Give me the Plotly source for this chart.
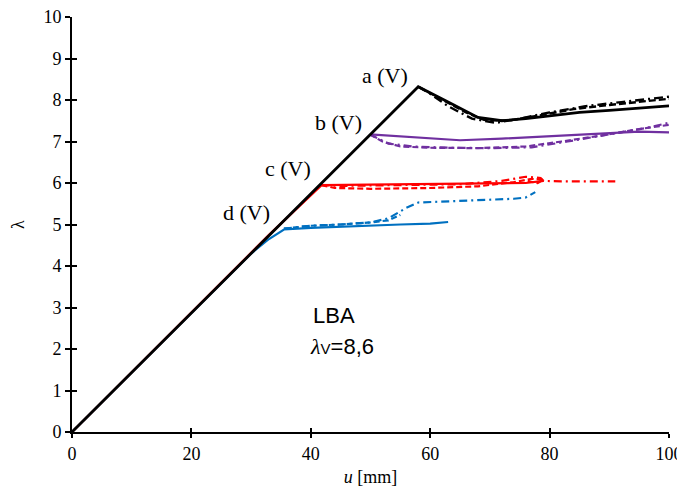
import plotly.graph_objects as go

# Black (a)
a_solid_u = [0, 58, 63, 68, 72, 76, 80, 85, 90, 95, 100]
a_solid_l = [0, 8.32, 7.95, 7.58, 7.5, 7.55, 7.62, 7.7, 7.75, 7.8, 7.86]
a_dash_u = [58, 62, 66, 69, 73, 78, 84, 90, 95, 100]
a_dash_l = [8.32, 8.0, 7.7, 7.52, 7.5, 7.62, 7.78, 7.88, 7.95, 8.03]
a_dd_u = [58, 60, 63, 67, 71, 75, 80, 86, 92, 100]
a_dd_l = [8.32, 8.15, 7.85, 7.55, 7.45, 7.55, 7.7, 7.85, 7.95, 8.08]

# Purple (b)
b_solid_u = [49.9, 55, 60, 65, 72, 80, 88, 95, 100]
b_solid_l = [7.17, 7.12, 7.07, 7.03, 7.07, 7.13, 7.2, 7.24, 7.22]
b_dash_u = [49.9, 52, 55, 60, 68, 76, 82, 88, 95, 100]
b_dash_l = [7.17, 7.0, 6.88, 6.85, 6.84, 6.88, 7.0, 7.13, 7.3, 7.4]
b_dd_u = [49.9, 53, 57, 63, 70, 77, 83, 90, 96, 100]
b_dd_l = [7.17, 6.95, 6.88, 6.85, 6.84, 6.86, 7.0, 7.18, 7.32, 7.45]

# Red (c)
c_solid_u = [0, 33, 41.8, 50, 60, 70, 76, 79]
c_solid_l = [0, 4.75, 5.95, 5.96, 5.97, 5.98, 6.0, 6.05]
c_dash_u = [41.8, 44, 50, 60, 68, 74, 77, 79, 78, 76]
c_dash_l = [5.95, 5.88, 5.86, 5.88, 5.92, 6.02, 6.1, 6.08, 6.0, 6.05]
c_dd_u = [41.8, 45, 55, 65, 72, 76, 78.5, 79, 82, 86, 91]
c_dd_l = [5.95, 5.93, 5.95, 5.97, 6.05, 6.15, 6.12, 6.05, 6.04, 6.04, 6.04]

# Blue (d)
d_solid_u = [0, 30, 33, 35.5, 40, 45, 50, 55, 60, 63]
d_solid_l = [0, 4.3, 4.65, 4.88, 4.92, 4.95, 4.97, 5.0, 5.02, 5.06]
d_dash_u = [35.5, 40, 45, 50, 53, 55]
d_dash_l = [4.9, 4.97, 5.0, 5.05, 5.1, 5.23]
d_dd_u = [35.5, 40, 45, 50, 53, 56, 58, 62, 68, 74, 76, 77.6]
d_dd_l = [4.9, 4.97, 5.0, 5.05, 5.15, 5.4, 5.53, 5.55, 5.58, 5.62, 5.65, 5.78]

x_ticks = [0, 20, 40, 60, 80, 100]
y_ticks = list(range(0, 11))

labels = ["a (V)", "b (V)", "c (V)", "d (V)"]
label_u = [52.4, 44.6, 36.2, 29.3]
label_l = [8.6, 7.45, 6.36, 5.28]

BLACK = "#000000"
PURPLE = "#7030A0"
RED = "#FF0000"
BLUE = "#0070C0"

fig = go.Figure()

def add(u, l, color, dash, width=2.2):
    fig.add_trace(go.Scatter(x=u, y=l, mode="lines",
                             line=dict(color=color, dash=dash, width=width),
                             showlegend=False, hoverinfo="skip"))

add(d_dash_u, d_dash_l, BLUE, "6px,3px")
add(d_dd_u, d_dd_l, BLUE, "8px,4px,2px,4px")
add(d_solid_u, d_solid_l, BLUE, "solid")
add(c_dash_u, c_dash_l, RED, "6px,3px")
add(c_dd_u, c_dd_l, RED, "8px,4px,2px,4px")
add(c_solid_u, c_solid_l, RED, "solid")
add(b_dash_u, b_dash_l, PURPLE, "6px,3px")
add(b_dd_u, b_dd_l, PURPLE, "8px,4px,2px,4px")
add(b_solid_u, b_solid_l, PURPLE, "solid")
add(a_dash_u, a_dash_l, BLACK, "7px,3px", 2.4)
add(a_dd_u, a_dd_l, BLACK, "9px,4px,2px,4px", 2.4)
add(a_solid_u, a_solid_l, BLACK, "solid", 2.8)

for t, u, l in zip(labels, label_u, label_l):
    fig.add_annotation(x=u, y=l, text=t, showarrow=False, xanchor="center",
                       yanchor="middle",
                       font=dict(family="Liberation Serif", size=22, color="black"))

fig.add_annotation(x=0.40, y=0.245, xref="paper", yref="paper", text="LBA",
                   showarrow=False, xanchor="left", yanchor="bottom",
                   font=dict(family="Liberation Sans", size=22, color="black"))
fig.add_annotation(x=0.396, y=0.24, xref="paper", yref="paper",
                   text="<i><span style='font-family:Liberation Serif'>λ</span></i><span style='font-size:15px'>V</span>=8,6",
                   showarrow=False, xanchor="left", yanchor="top",
                   font=dict(family="Liberation Sans", size=22, color="black"))

serif = dict(family="Liberation Serif", size=18, color="black")
fig.update_layout(
    width=685, height=483,
    margin=dict(l=64, r=24, t=9, b=59),
    plot_bgcolor="white", paper_bgcolor="white",
    xaxis=dict(range=[0, 100], tickvals=x_ticks, ticks="outside", ticklen=4,
               tickwidth=1.5, tickcolor="black", showgrid=False, zeroline=False,
               showline=True, linecolor="black", linewidth=2, tickfont=serif,
               automargin=False, ticklabeloverflow="allow",
               title=dict(text="<i>u</i> [mm]", font=serif, standoff=8)),
    yaxis=dict(range=[0, 10], tickvals=y_ticks, ticks="outside", ticklen=5,
               tickwidth=1.5, tickcolor="black", showgrid=False, zeroline=False,
               showline=True, linecolor="black", linewidth=2, tickfont=serif,
               automargin=False, ticklabeloverflow="allow",
               title=dict(text="λ", font=serif, standoff=22)),
    xaxis2=dict(range=[0, 100], tickvals=x_ticks, ticks="inside", ticklen=4,
                tickwidth=1.5, tickcolor="black", showticklabels=False,
                automargin=False,
                showgrid=False, zeroline=False, overlaying="x", side="bottom"),
    yaxis2=dict(range=[0, 10], tickvals=y_ticks, ticks="inside", ticklen=5,
                tickwidth=1.5, tickcolor="black", showticklabels=False,
                automargin=False,
                showgrid=False, zeroline=False, overlaying="y", side="left"),
)
fig.add_trace(go.Scatter(x=[None], y=[None], xaxis="x2", yaxis="y2",
                         showlegend=False, hoverinfo="skip"))

fig.write_html("out.html")
